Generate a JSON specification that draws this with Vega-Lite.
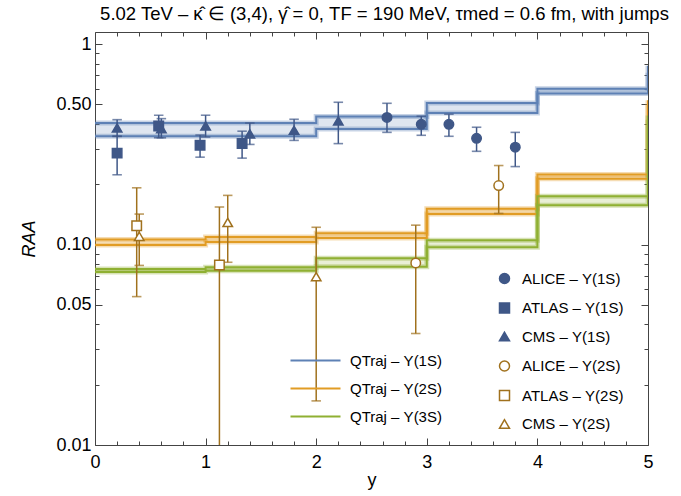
{
  "$schema": "https://vega.github.io/schema/vega-lite/v6.json",
  "width": 553,
  "height": 413,
  "autosize": {"type": "none"},
  "padding": {"left": 95, "top": 32, "right": 33, "bottom": 51},
  "background": "white",
  "title": {"text": "5.02 TeV – κ̂ ∈ (3,4), γ̂ = 0, TF = 190 MeV, τmed = 0.6 fm, with jumps", "fontSize": 18.5, "font": "Liberation Sans", "fontWeight": "normal", "anchor": "middle", "offset": 8, "dx": 13, "color": "black"},
  "config": {"view": {"stroke": "#444", "strokeWidth": 1}, "font": "Liberation Sans"},
  "datasets": {
    "bands": [
      {"label": "QTraj – Υ(1S)", "x": 0, "lo": 0.347, "hi": 0.404},
      {"label": "QTraj – Υ(1S)", "x": 1, "lo": 0.347, "hi": 0.404},
      {"label": "QTraj – Υ(1S)", "x": 2, "lo": 0.377, "hi": 0.436},
      {"label": "QTraj – Υ(1S)", "x": 3, "lo": 0.454, "hi": 0.509},
      {"label": "QTraj – Υ(1S)", "x": 4, "lo": 0.567, "hi": 0.6},
      {"label": "QTraj – Υ(1S)", "x": 5, "lo": 0.72, "hi": 0.78},
      {"label": "QTraj – Υ(2S)", "x": 0, "lo": 0.0995, "hi": 0.106},
      {"label": "QTraj – Υ(2S)", "x": 1, "lo": 0.103, "hi": 0.109},
      {"label": "QTraj – Υ(2S)", "x": 2, "lo": 0.108, "hi": 0.114},
      {"label": "QTraj – Υ(2S)", "x": 3, "lo": 0.142, "hi": 0.151},
      {"label": "QTraj – Υ(2S)", "x": 4, "lo": 0.213, "hi": 0.224},
      {"label": "QTraj – Υ(2S)", "x": 5, "lo": 0.5, "hi": 0.525},
      {"label": "QTraj – Υ(3S)", "x": 0, "lo": 0.073, "hi": 0.0755},
      {"label": "QTraj – Υ(3S)", "x": 1, "lo": 0.074, "hi": 0.077},
      {"label": "QTraj – Υ(3S)", "x": 2, "lo": 0.0776, "hi": 0.0855},
      {"label": "QTraj – Υ(3S)", "x": 3, "lo": 0.097, "hi": 0.105},
      {"label": "QTraj – Υ(3S)", "x": 4, "lo": 0.157, "hi": 0.174},
      {"label": "QTraj – Υ(3S)", "x": 5, "lo": 0.42, "hi": 0.44}
    ],
    "pts": [
      {"set": "ALICE – Υ(1S)", "x": 2.64, "v": 0.431, "lo": 0.363, "hi": 0.507},
      {"set": "ALICE – Υ(1S)", "x": 2.95, "v": 0.398, "lo": 0.351, "hi": 0.437},
      {"set": "ALICE – Υ(1S)", "x": 3.2, "v": 0.398, "lo": 0.347, "hi": 0.447},
      {"set": "ALICE – Υ(1S)", "x": 3.45, "v": 0.339, "lo": 0.292, "hi": 0.385},
      {"set": "ALICE – Υ(1S)", "x": 3.8, "v": 0.306, "lo": 0.245, "hi": 0.363},
      {"set": "ATLAS – Υ(1S)", "x": 0.2, "v": 0.286, "lo": 0.223, "hi": 0.347},
      {"set": "ATLAS – Υ(1S)", "x": 0.576, "v": 0.391, "lo": 0.341, "hi": 0.442},
      {"set": "ATLAS – Υ(1S)", "x": 0.95, "v": 0.313, "lo": 0.273, "hi": 0.352},
      {"set": "ATLAS – Υ(1S)", "x": 1.33, "v": 0.319, "lo": 0.27, "hi": 0.368},
      {"set": "CMS – Υ(1S)", "x": 0.2, "v": 0.382, "lo": 0.347, "hi": 0.42},
      {"set": "CMS – Υ(1S)", "x": 0.6, "v": 0.379, "lo": 0.341, "hi": 0.425},
      {"set": "CMS – Υ(1S)", "x": 1.0, "v": 0.391, "lo": 0.344, "hi": 0.442},
      {"set": "CMS – Υ(1S)", "x": 1.4, "v": 0.357, "lo": 0.316, "hi": 0.404},
      {"set": "CMS – Υ(1S)", "x": 1.8, "v": 0.372, "lo": 0.331, "hi": 0.422},
      {"set": "CMS – Υ(1S)", "x": 2.2, "v": 0.414, "lo": 0.319, "hi": 0.513},
      {"set": "ALICE – Υ(2S)", "x": 2.9, "v": 0.081, "lo": 0.036, "hi": 0.125},
      {"set": "ALICE – Υ(2S)", "x": 3.65, "v": 0.197, "lo": 0.143, "hi": 0.248},
      {"set": "ATLAS – Υ(2S)", "x": 0.377, "v": 0.124, "lo": 0.055, "hi": 0.192},
      {"set": "ATLAS – Υ(2S)", "x": 1.125, "v": 0.079, "lo": 0.005, "hi": 0.154},
      {"set": "CMS – Υ(2S)", "x": 0.4, "v": 0.11, "lo": 0.0787, "hi": 0.142},
      {"set": "CMS – Υ(2S)", "x": 1.2, "v": 0.129, "lo": 0.0816, "hi": 0.176},
      {"set": "CMS – Υ(2S)", "x": 2.0, "v": 0.0692, "lo": 0.0166, "hi": 0.122}
    ]
  },
  "layer": [
    {
      "layer": [
        {
          "data": {"name": "bands"},
          "mark": {"type": "area", "interpolate": "step-after", "opacity": 0.2, "clip": true},
          "encoding": {
            "x": {"field": "x", "type": "quantitative", "scale": {"domain": [0, 5], "nice": false, "zero": false},
              "axis": {"values": [0, 1, 2, 3, 4, 5], "format": "d", "tickSize": -7,
                "tickColor": "#444", "domain": false, "grid": false, "labelOverlap": false, "labelFlush": false,
                "labelFontSize": 18, "labelFont": "Liberation Sans", "labelColor": "black", "labelPadding": 15,
                "title": "y", "titleFontSize": 18, "titleFont": "Liberation Sans", "titleFontWeight": "normal", "titleColor": "black", "titlePadding": 0}},
            "y": {"field": "lo", "type": "quantitative", "scale": {"type": "log", "domain": [0.01, 1.15], "nice": false},
              "axis": {"values": [0.01, 0.05, 0.1, 0.5, 1],
                "labelExpr": "datum.value == 1 ? '1' : format(datum.value, '.2f')", "tickSize": -7,
                "tickColor": "#444", "domain": false, "grid": false, "labelOverlap": false, "labelFlush": false,
                "labelFontSize": 18, "labelFont": "Liberation Sans", "labelColor": "black", "labelPadding": 11,
                "title": "RAA", "titleFontSize": 18, "titleFont": "Liberation Sans", "titleFontWeight": "normal", "titleFontStyle": "italic", "titleColor": "black", "titlePadding": 17}},
            "y2": {"field": "hi"},
            "color": {"field": "label", "type": "nominal", "scale": {"domain": ["QTraj – Υ(1S)", "QTraj – Υ(2S)", "QTraj – Υ(3S)"], "range": ["#5E81B5", "#E19C24", "#8FB032"]}, "legend": null}
          }
        },
        {
          "data": {"name": "bands"},
          "transform": [{"fold": ["lo", "hi"], "as": ["bound", "val"]}],
          "mark": {"type": "line", "interpolate": "step-after", "strokeWidth": 5, "opacity": 0.35, "clip": true},
          "encoding": {
            "x": {"field": "x", "type": "quantitative"},
            "y": {"field": "val", "type": "quantitative"},
            "detail": {"field": "bound"},
            "color": {"field": "label", "type": "nominal", "legend": null}
          }
        },
        {
          "data": {"name": "bands"},
          "transform": [{"fold": ["lo", "hi"], "as": ["bound", "val"]}],
          "mark": {"type": "line", "interpolate": "step-after", "strokeWidth": 2, "clip": true},
          "encoding": {
            "x": {"field": "x", "type": "quantitative"},
            "y": {"field": "val", "type": "quantitative"},
            "detail": {"field": "bound"},
            "color": {"field": "label", "type": "nominal",
              "legend": {"orient": "none", "legendX": 213, "legendY": 321, "title": null, "symbolType": "M-5,0H5", "symbolSize": 100, "symbolStrokeWidth": 2, "labelFontSize": 15, "labelFont": "Liberation Sans", "labelColor": "black", "labelOffset": 27, "rowPadding": 12}}
          }
        },
        {
          "data": {"name": "pts"},
          "mark": {"type": "rule", "strokeWidth": 1.5, "clip": true},
          "encoding": {
            "x": {"field": "x", "type": "quantitative"},
            "y": {"field": "lo", "type": "quantitative"},
            "y2": {"field": "hi"},
            "stroke": {"field": "set", "type": "nominal", "legend": null}
          }
        },
        {
          "data": {"name": "pts"},
          "mark": {"type": "tick", "orient": "horizontal", "filled": false, "size": 8, "thickness": 0.1, "strokeWidth": 1.5, "clip": true},
          "encoding": {
            "x": {"field": "x", "type": "quantitative"},
            "y": {"field": "lo", "type": "quantitative"},
            "stroke": {"field": "set", "type": "nominal", "legend": null}
          }
        },
        {
          "data": {"name": "pts"},
          "mark": {"type": "tick", "orient": "horizontal", "filled": false, "size": 8, "thickness": 0.1, "strokeWidth": 1.5, "clip": true},
          "encoding": {
            "x": {"field": "x", "type": "quantitative"},
            "y": {"field": "hi", "type": "quantitative"},
            "stroke": {"field": "set", "type": "nominal", "legend": null}
          }
        },
        {
          "data": {"name": "pts"},
          "mark": {"type": "point", "size": 90, "strokeWidth": 1.5, "opacity": 1, "fillOpacity": 1, "clip": true},
          "encoding": {
            "x": {"field": "x", "type": "quantitative"},
            "y": {"field": "v", "type": "quantitative"},
            "shape": {"field": "set", "type": "nominal",
              "scale": {"domain": ["ALICE – Υ(1S)", "ATLAS – Υ(1S)", "CMS – Υ(1S)", "ALICE – Υ(2S)", "ATLAS – Υ(2S)", "CMS – Υ(2S)"], "range": ["circle", "square", "triangle-up", "circle", "square", "triangle-up"]},
              "legend": {"orient": "none", "legendX": 402, "legendY": 239, "title": null, "symbolSize": 100, "symbolStrokeWidth": 1.5, "labelFontSize": 15, "labelFont": "Liberation Sans", "labelColor": "black", "labelOffset": 10, "rowPadding": 12.5}},
            "stroke": {"field": "set", "type": "nominal",
              "scale": {"domain": ["ALICE – Υ(1S)", "ATLAS – Υ(1S)", "CMS – Υ(1S)", "ALICE – Υ(2S)", "ATLAS – Υ(2S)", "CMS – Υ(2S)"], "range": ["#3f5787", "#3f5787", "#3f5787", "#a0711d", "#a0711d", "#a0711d"]},
              "legend": {"orient": "none", "legendX": 402, "legendY": 239, "title": null, "symbolSize": 100, "symbolStrokeWidth": 1.5, "labelFontSize": 15, "labelFont": "Liberation Sans", "labelColor": "black", "labelOffset": 10, "rowPadding": 12.5}},
            "fill": {"field": "set", "type": "nominal",
              "scale": {"domain": ["ALICE – Υ(1S)", "ATLAS – Υ(1S)", "CMS – Υ(1S)", "ALICE – Υ(2S)", "ATLAS – Υ(2S)", "CMS – Υ(2S)"], "range": ["#3f5787", "#3f5787", "#3f5787", "white", "white", "white"]},
              "legend": {"orient": "none", "legendX": 402, "legendY": 239, "title": null, "symbolSize": 100, "symbolStrokeWidth": 1.5, "labelFontSize": 15, "labelFont": "Liberation Sans", "labelColor": "black", "labelOffset": 10, "rowPadding": 12.5}}
          }
        }
      ],
      "resolve": {"legend": {"color": "independent", "stroke": "independent", "shape": "independent", "fill": "independent"}}
    },
    {
      "data": {"name": "bands"},
      "mark": {"type": "point", "opacity": 0},
      "encoding": {
        "x": {"field": "x", "type": "quantitative",
          "axis": {"orient": "top", "values": [0,0.2,0.4,0.6,0.8,1,1.2,1.4,1.6,1.8,2,2.2,2.4,2.6,2.8,3,3.2,3.4,3.6,3.8,4,4.2,4.4,4.6,4.8,5], "labels": false, "title": null, "domain": false, "grid": false, "tickColor": "#444",
            "tickSize": {"condition": {"test": "abs(datum.value - round(datum.value)) < 0.000001", "value": -7}, "value": -4}}},
        "y": {"field": "lo", "type": "quantitative",
          "axis": {"orient": "right", "values": [0.01,0.02,0.03,0.04,0.05,0.06,0.07,0.08,0.09,0.1,0.2,0.3,0.4,0.5,0.6,0.7,0.8,0.9,1], "labels": false, "title": null, "domain": false, "grid": false, "tickColor": "#444",
            "tickSize": {"condition": {"test": "indexof([0.01,0.05,0.1,0.5,1], datum.value) >= 0", "value": -7}, "value": -4}}}
      }
    },
    {
      "data": {"name": "bands"},
      "mark": {"type": "point", "opacity": 0},
      "encoding": {
        "x": {"field": "x", "type": "quantitative",
          "axis": {"orient": "bottom", "values": [0.2,0.4,0.6,0.8,1.2,1.4,1.6,1.8,2.2,2.4,2.6,2.8,3.2,3.4,3.6,3.8,4.2,4.4,4.6,4.8], "labels": false, "title": null, "domain": false, "grid": false, "tickColor": "#444", "tickSize": -4}},
        "y": {"field": "lo", "type": "quantitative",
          "axis": {"orient": "left", "values": [0.02,0.03,0.04,0.06,0.07,0.08,0.09,0.2,0.3,0.4,0.6,0.7,0.8,0.9], "labels": false, "title": null, "domain": false, "grid": false, "tickColor": "#444", "tickSize": -4}}
      }
    }
  ],
  "resolve": {"axis": {"x": "independent", "y": "independent"}}
}
